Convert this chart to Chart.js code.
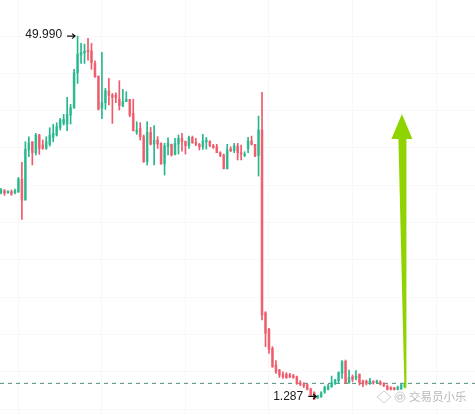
<!DOCTYPE html>
<html>
<head>
<meta charset="utf-8">
<title>K-line</title>
<script src="https://cdn.jsdelivr.net/npm/chart.js@4"></script>
<style>
  html, body { margin: 0; padding: 0; background: #fff; }
  canvas { display: block; }
</style>
</head>
<body>
<canvas id="klineChart" width="475" height="415"></canvas>
<script>
// values, one entry per candle
const opens = [29.00,29.27,29.00,29.13,29.00,29.09,30.83,28.01,34.72,35.83,34.36,36.73,35.39,34.94,35.48,36.41,36.73,37.75,38.29,38.20,39.41,40.39,45.08,47.45,47.72,48.12,47.99,46.33,44.64,40.30,41.06,42.62,42.04,42.09,41.55,40.61,41.20,41.51,39.63,37.13,
  37.62,36.50,33.15,37.08,35.52,36.06,35.61,32.84,35.16,35.48,34.14,35.52,36.28,35.88,35.30,36.41,35.74,35.48,35.16,35.83,35.88,35.30,35.16,34.36,34.05,32.21,34.85,34.63,35.25,34.36,34.00,34.94,35.92,35.48,34.00,37.40,
  12.91,10.68,8.13,5.90,5.23,4.65,4.65,4.56,4.47,4.33,3.53,3.35,3.26,2.68,2.19,1.47,1.65,2.28,2.64,2.99,3.44,3.80,4.78,6.39,3.53,4.33,4.16,4.69,3.75,3.71,3.44,3.71,3.57,3.66,3.44,3.08,2.90,2.86,2.64,2.68,2.99];
const closes = [29.36,28.91,29.18,28.82,29.27,30.83,28.01,34.81,35.70,34.36,36.73,34.94,34.94,35.83,36.73,36.95,37.84,38.74,38.83,39.50,40.39,45.08,47.58,47.81,47.99,47.90,46.42,44.55,40.21,41.11,42.67,42.04,41.78,41.73,40.66,41.20,41.51,39.41,37.31,37.36,
  36.50,33.15,37.08,35.52,36.06,35.52,32.84,35.25,35.61,34.05,35.61,36.28,35.83,35.30,36.41,35.70,35.48,35.16,35.92,36.06,35.30,35.03,34.36,34.00,32.21,34.72,34.63,35.25,34.36,34.18,34.18,35.92,35.48,33.91,37.40,12.60,
  10.14,8.00,5.67,5.00,4.56,4.33,4.20,4.24,4.24,3.44,3.31,3.08,2.64,1.88,1.30,1.74,2.19,2.90,3.08,3.53,3.89,4.87,6.34,3.53,4.24,3.98,4.42,3.53,3.35,3.44,3.80,3.53,3.75,3.35,3.13,2.64,2.64,2.59,2.90,3.22,3.44];
const highs = [29.58,29.44,29.27,29.36,29.49,31.05,33.06,35.83,36.50,35.83,36.95,36.82,36.06,36.50,37.71,38.16,38.38,38.96,39.50,41.78,40.84,45.53,49.99,49.01,48.92,49.68,49.01,46.69,44.64,47.81,42.98,44.32,42.31,42.40,44.01,42.85,42.54,41.51,41.51,38.51,
  38.38,36.73,38.51,37.75,37.98,36.50,35.70,35.61,36.37,35.52,36.28,36.73,36.95,35.92,36.59,36.59,36.28,35.61,36.82,36.41,35.97,35.48,35.48,34.49,34.18,35.48,35.16,35.61,35.61,35.39,34.49,36.41,36.59,35.48,39.27,42.45,
  13.05,10.81,8.36,6.48,5.32,5.00,4.87,4.78,4.65,4.42,3.80,3.53,3.35,2.77,2.32,1.88,2.32,3.08,3.31,4.42,3.98,5.00,6.48,6.57,5.23,4.56,5.14,4.69,3.89,3.89,4.11,3.80,3.89,3.80,3.53,3.22,2.99,2.90,3.08,3.35,3.53];
const lows = [28.82,28.64,28.91,28.64,28.82,29.04,25.42,28.01,33.82,32.71,34.05,34.14,34.81,34.81,35.25,35.83,36.59,37.40,38.07,37.31,38.20,40.30,43.65,46.33,46.33,46.78,45.53,44.46,40.08,38.92,40.17,40.75,38.29,41.06,40.08,40.52,41.20,39.18,37.26,36.82,
  36.06,33.06,32.71,35.39,32.71,34.94,32.84,31.37,34.05,33.91,34.05,34.18,34.58,34.18,34.94,35.61,35.30,34.72,34.81,34.85,35.16,34.94,34.36,33.82,32.17,32.17,34.49,34.36,33.38,33.38,33.82,34.36,35.39,33.82,31.23,11.93,
  8.36,7.46,5.59,4.78,4.24,4.11,4.11,4.24,4.11,3.31,3.13,2.86,2.55,1.74,1.287,1.43,1.56,2.10,2.55,2.90,3.31,3.44,4.11,3.44,3.44,3.66,3.89,3.22,2.99,3.22,3.31,3.35,3.44,3.22,2.99,2.55,2.55,2.55,2.55,2.64,2.90];

const gridPrices = [0,5,10,15,20,25,30,35,40,45,50];
const gridCandles = [5,29,53,77,101,125];
const lastPrice = 3.44;
const highLabel = '49.990';
const lowLabel = '1.287';
const highIndex = 22;
const lowIndex = 90;
const arrowIndex = 115.2;
const arrowTop = 39.54;
const arrowBottom = 2.8;
const watermark = '交易员小乐';

const RED = '#ee5a6a';
const GREEN = '#27b78e';
const RED_BODY = '#f2808c';
const GREEN_BODY = '#5cc9aa';

const candleIdx = opens.map((_, i) => i);
const isUp = (i) => closes[i] >= opens[i];

function smallArrow(c, x0, x1, y) {
    c.beginPath();
    c.moveTo(x0, y);
    c.lineTo(x1, y);
    c.moveTo(x1 - 3, y - 2.5);
    c.lineTo(x1, y);
    c.lineTo(x1 - 3, y + 2.5);
    c.stroke();
}

// big green arrow, callouts and the watermark go on top of the candles
const overlay = {
    id: 'overlay',
    afterDatasetsDraw(chart) {
        const c = chart.ctx;
        const x = chart.scales.x;
        const y = chart.scales.y;

        const tipX = x.getPixelForValue(arrowIndex);
        const tipY = y.getPixelForValue(arrowTop);
        const baseY = y.getPixelForValue(arrowBottom);
        c.save();
        c.fillStyle = '#8fd400';
        c.beginPath();
        c.moveTo(tipX, tipY);
        c.lineTo(tipX + 10.5, tipY + 25);
        c.lineTo(tipX + 4.5, tipY + 25);
        c.lineTo(tipX + 4.5, baseY);
        c.lineTo(tipX + 2.5, baseY);
        c.lineTo(tipX - 3.5, tipY + 25);
        c.lineTo(tipX - 10.5, tipY + 25);
        c.closePath();
        c.fill();

        c.font = '12px "Liberation Sans", Arial, sans-serif';
        c.fillStyle = '#1a1a1a';
        c.strokeStyle = '#111';
        c.lineWidth = 1.2;
        c.textBaseline = 'middle';
        c.textAlign = 'right';
        const hx = x.getPixelForValue(highIndex);
        const hy = y.getPixelForValue(highs[highIndex]);
        c.fillText(highLabel, hx - 15.5, hy - 1);
        smallArrow(c, hx - 10.5, hx - 2.5, hy);
        const lx = x.getPixelForValue(lowIndex);
        const ly = y.getPixelForValue(lows[lowIndex]);
        c.fillText(lowLabel, lx - 11, ly - 3);
        smallArrow(c, lx - 6, lx + 2, ly - 3);

        // watermark
        c.fillStyle = '#b8b8b8';
        c.strokeStyle = '#d0d0d0';
        c.lineWidth = 1;
        c.textAlign = 'left';
        c.font = '11.5px "Noto Sans CJK SC", sans-serif';
        c.fillText(watermark, 409, 397);
        c.beginPath();
        c.moveTo(384, 391); c.lineTo(391, 397); c.lineTo(384, 403); c.lineTo(377, 397);
        c.closePath();
        c.stroke();
        c.beginPath();
        c.arc(400, 397, 5, 0, Math.PI * 2);
        c.stroke();
        c.font = '8px "Liberation Sans", sans-serif';
        c.textAlign = 'center';
        c.fillText('@', 400, 397);
        c.restore();
    }
};

new Chart(document.getElementById('klineChart').getContext('2d'), {
    data: {
        datasets: [
            {
                type: 'line',
                data: [{ x: -0.29, y: lastPrice }, { x: 136.2, y: lastPrice }],
                borderColor: '#4d8f7e',
                borderWidth: 1,
                borderDash: [4, 4],
                pointRadius: 0,
                order: 3
            },
            {
                type: 'bar',
                data: candleIdx.map(i => ({ x: i, y: [opens[i], closes[i]] })),
                backgroundColor: (ctx) => isUp(ctx.dataIndex) ? GREEN_BODY : RED_BODY,
                barThickness: 2,
                grouped: false,
                order: 2
            },
            {
                type: 'bar',
                data: candleIdx.map(i => ({ x: i, y: [lows[i], highs[i]] })),
                backgroundColor: (ctx) => isUp(ctx.dataIndex) ? GREEN : RED,
                barThickness: 1,
                grouped: false,
                order: 1
            }
        ]
    },
    options: {
        responsive: false,
        animation: false,
        layout: { padding: 0 },
        plugins: { legend: { display: false }, tooltip: { enabled: false } },
        scales: {
            x: {
                type: 'linear',
                min: -0.29,
                max: 136.2,
                offset: false,
                ticks: { display: false },
                border: { display: false },
                grid: { color: '#f8f8f8', drawTicks: false, offset: false },
                afterBuildTicks: (axis) => { axis.ticks = gridCandles.map(v => ({ value: v })); }
            },
            y: {
                min: -0.8,
                max: 54.83,
                ticks: { display: false },
                border: { display: false },
                grid: { color: '#f8f8f8', drawTicks: false },
                afterBuildTicks: (axis) => { axis.ticks = gridPrices.map(v => ({ value: v })); }
            }
        }
    },
    plugins: [overlay]
});
</script>
</body>
</html>
